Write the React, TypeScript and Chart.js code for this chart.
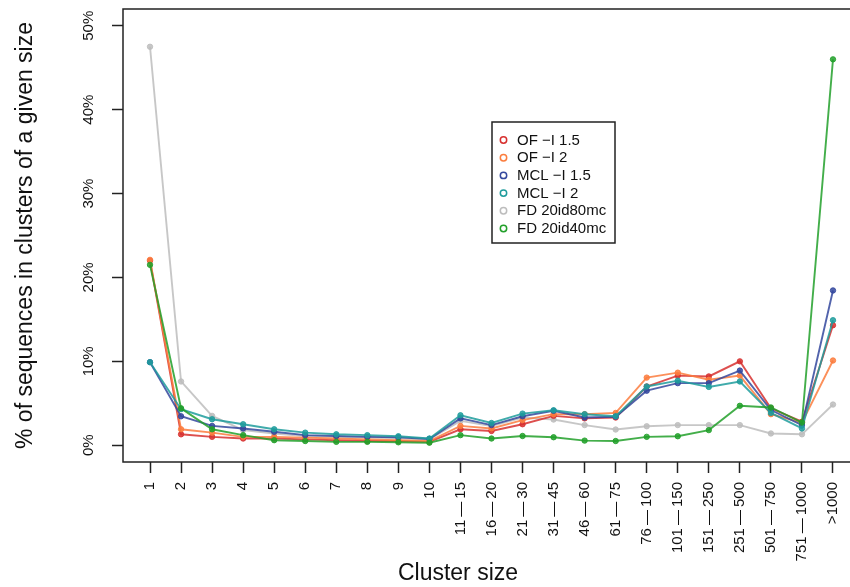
import React, { useEffect, useRef } from "react";
import { Chart, registerables } from "chart.js";
Chart.register(...registerables);

const D = "\u2009\u2014\u2009";
const clusterSizes = [
  "1", "2", "3", "4", "5", "6", "7", "8", "9", "10",
  `11${D}15`, `16${D}20`, `21${D}30`, `31${D}45`, `46${D}60`, `61${D}75`,
  `76${D}100`, `101${D}150`, `151${D}250`, `251${D}500`, `501${D}750`, `751${D}1000`, ">1000",
];

const ofI15 = [22.0, 1.3, 1.0, 0.8, 0.8, 0.7, 0.6, 0.5, 0.5, 0.4, 1.9, 1.7, 2.5, 3.5, 3.2, 3.3, 7.0, 8.3, 8.2, 10.0, 4.4, 2.8, 14.3];
const ofI2 = [22.1, 1.9, 1.5, 1.0, 1.0, 0.9, 0.8, 0.7, 0.6, 0.5, 2.3, 2.0, 3.0, 3.7, 3.7, 3.85, 8.06, 8.65, 7.8, 8.3, 3.7, 2.7, 10.1];
const mclI15 = [9.9, 3.45, 2.3, 2.0, 1.6, 1.2, 1.1, 1.0, 0.95, 0.75, 3.2, 2.4, 3.45, 4.1, 3.3, 3.4, 6.5, 7.4, 7.4, 8.9, 4.2, 2.4, 18.45];
const mclI2 = [9.9, 4.3, 3.1, 2.5, 1.9, 1.5, 1.3, 1.2, 1.07, 0.8, 3.57, 2.65, 3.77, 4.17, 3.7, 3.45, 7.0, 7.7, 6.95, 7.6, 3.85, 2.0, 14.9];
const fd80 = [47.5, 7.6, 3.5, 1.8, 1.4, 1.1, 1.0, 0.9, 0.85, 0.7, 2.9, 2.3, 3.3, 3.06, 2.4, 1.87, 2.26, 2.4, 2.4, 2.4, 1.4, 1.3, 4.85];
const fd40 = [21.5, 4.4, 1.9, 1.2, 0.6, 0.5, 0.4, 0.4, 0.35, 0.3, 1.2, 0.8, 1.1, 0.95, 0.55, 0.5, 1.0, 1.07, 1.8, 4.7, 4.5, 2.7, 46.0];

const seriesNames = ["OF \u2212I 1.5", "OF \u2212I 2", "MCL \u2212I 1.5", "MCL \u2212I 2", "FD 20id80mc", "FD 20id40mc"];
const seriesValues = [ofI15, ofI2, mclI15, mclI2, fd80, fd40];
const seriesColors = ["#d7302f", "#fb7d3e", "#34489e", "#1f9c9c", "#bdbdbd", "#22a02a"];
const seriesOrder = [5, 4, 3, 2, 6, 1];
const yTicks = [0, 10, 20, 30, 40, 50];
const xTitle = "Cluster size";
const yTitle = "% of sequences in clusters of a given size";

const FONT = '"Liberation Sans", Arial, Helvetica, sans-serif';

function hexA(hex: string, a: number) {
  const n = parseInt(hex.slice(1), 16);
  return `rgba(${(n >> 16) & 255},${(n >> 8) & 255},${n & 255},${a})`;
}

const boxPlugin = {
  id: "rbox",
  afterDraw(chart: any) {
    const { ctx, chartArea } = chart;
    ctx.save();
    ctx.strokeStyle = "#222";
    ctx.lineWidth = 1.5;
    ctx.strokeRect(chartArea.left, chartArea.top, chartArea.right - chartArea.left, chartArea.bottom - chartArea.top);
    // x title
    ctx.fillStyle = "#111";
    ctx.font = `23px ${FONT}`;
    ctx.textAlign = "center";
    ctx.textBaseline = "middle";
    ctx.fillText(xTitle, 458, 574);
    // legend
    const lx = 492, ly = 122, lw = 123, lh = 121;
    ctx.fillStyle = "#fff";
    ctx.fillRect(lx, ly, lw, lh);
    ctx.strokeStyle = "#222";
    ctx.lineWidth = 1.5;
    ctx.strokeRect(lx, ly, lw, lh);
    ctx.font = `15px ${FONT}`;
    ctx.textAlign = "left";
    seriesNames.forEach((name, i) => {
      const y = ly + 18 + i * 17.7;
      ctx.beginPath();
      ctx.arc(lx + 11.5, y, 3.2, 0, Math.PI * 2);
      ctx.strokeStyle = seriesColors[i];
      ctx.lineWidth = 1.5;
      ctx.stroke();
      ctx.fillStyle = "#111";
      ctx.fillText(name, lx + 25, y + 0.5);
    });
    ctx.restore();
  },
};

export default function App() {
  const ref = useRef<HTMLCanvasElement | null>(null);
  useEffect(() => {
    if (!ref.current) return;
    const chart = new Chart(ref.current, {
      type: "line",
      data: {
        datasets: seriesValues.map((vals, s) => ({
          label: seriesNames[s],
          data: vals.map((v, i) => ({ x: i, y: v })),
          borderColor: hexA(seriesColors[s], 0.85),
          backgroundColor: hexA(seriesColors[s], 0.85),
          pointBackgroundColor: hexA(seriesColors[s], 0.85),
          pointBorderColor: hexA(seriesColors[s], 0.85),
          borderWidth: 1.9,
          pointRadius: 2.7,
          pointBorderWidth: 1,
          tension: 0,
          order: seriesOrder[s],
        })),
      },
      options: {
        responsive: false,
        animation: false,
        devicePixelRatio: 1,
        layout: { padding: { left: 0, top: 9, right: 20, bottom: 0 } },
        plugins: { legend: { display: false }, tooltip: { enabled: false } },
        scales: {
          x: {
            type: "linear",
            min: -0.87,
            max: 22.87,
            afterBuildTicks: (sc: any) => {
              sc.ticks = clusterSizes.map((_, i) => ({ value: i }));
            },
            afterFit: (sc: any) => {
              sc.height = 125;
              sc.paddingLeft = 0;
              sc.paddingRight = 0;
            },
            grid: { display: true, drawOnChartArea: false, drawTicks: true, tickLength: 11, tickColor: "#222", tickWidth: 1.5 },
            border: { display: false },
            ticks: {
              autoSkip: false,
              minRotation: 90,
              maxRotation: 90,
              padding: 9,
              color: "#111",
              font: { family: FONT, size: 15 },
              callback: (v: any) => clusterSizes[v as number] ?? "",
            },
          },
          y: {
            type: "linear",
            min: -2,
            max: 52,
            afterBuildTicks: (sc: any) => {
              sc.ticks = yTicks.map((v) => ({ value: v }));
            },
            afterFit: (sc: any) => {
              sc.width = 123;
              sc.paddingTop = 0;
              sc.paddingBottom = 0;
            },
            grid: { display: true, drawOnChartArea: false, drawTicks: true, tickLength: 11, tickColor: "#222", tickWidth: 1.5 },
            border: { display: false },
            title: {
              display: true,
              text: yTitle,
              color: "#111",
              font: { family: FONT, size: 23 },
              padding: { top: 12, bottom: 0 },
            },
            ticks: {
              minRotation: 90,
              maxRotation: 90,
              crossAlign: "center",
              padding: 8,
              color: "#111",
              font: { family: FONT, size: 15 },
              callback: (v: any) => `${v}%`,
            },
          },
        },
      },
      plugins: [boxPlugin],
    } as any);
    return () => chart.destroy();
  }, []);
  return (
    <div style={{ position: "fixed", left: 0, top: 0, width: 850, height: 587, overflow: "hidden", background: "#fff" }}>
      <canvas ref={ref} width={880} height={587} style={{ display: "block" }} />
    </div>
  );
}
